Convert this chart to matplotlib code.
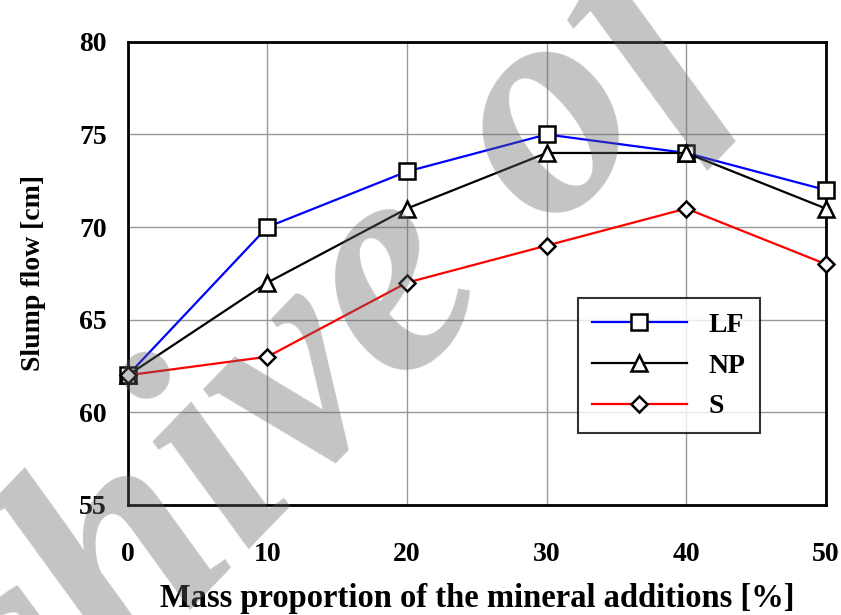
import matplotlib.pyplot as plt

# Datos
proporcion = [0, 10, 20, 30, 40, 50]
lf = [62, 70, 73, 75, 74, 72]
np_ = [62, 67, 71, 74, 74, 71]
s = [62, 63, 67, 69, 71, 68]

plt.rcParams["font.family"] = "Liberation Serif"
plt.rcParams["font.weight"] = "bold"

fig = plt.figure(figsize=(8.41, 6.15), dpi=100)
ax = fig.add_axes([0.152, 0.179, 0.830, 0.753])

ax.plot(proporcion, lf, color="blue", lw=1.6, marker="s", ms=12,
        mfc="white", mec="black", mew=1.8, label="LF", zorder=3)
ax.plot(proporcion, np_, color="black", lw=1.6, marker="^", ms=12,
        mfc="white", mec="black", mew=1.8, label="NP", zorder=3)
ax.plot(proporcion, s, color="red", lw=1.6, marker="D", ms=8,
        mfc="white", mec="black", mew=1.8, label="S", zorder=3)

ax.set_xlim(0, 50)
ax.set_ylim(55, 80)
ax.set_xticks(proporcion)
ax.set_yticks(range(55, 81, 5))
ax.grid(True, color="#999999", lw=1)
ax.tick_params(length=0, labelsize=20)
ax.tick_params(axis="x", pad=27)
ax.tick_params(axis="y", pad=15)
for sp in ax.spines.values():
    sp.set_linewidth(2)
for line in ax.lines:
    line.set_clip_on(False)

ax.set_xlabel("Mass proportion of the mineral additions [%]", fontsize=23.5,
              fontweight="bold", labelpad=11)
ax.set_ylabel("Slump flow [cm]", fontsize=20, fontweight="bold", labelpad=24)

leg = ax.legend(loc="lower right", bbox_to_anchor=(0.905, 0.155), fontsize=20,
                frameon=True, fancybox=False, edgecolor="black",
                handlelength=3.4, borderpad=0.5, labelspacing=0.55,
                borderaxespad=0)
leg.get_frame().set_linewidth(1.5)

# marca de agua
fig.text(0.385, 0.413, "chive of", fontsize=225, color="#646464",
         rotation=46, ha="center", va="center", style="italic",
         fontweight="bold", alpha=0.38, zorder=10)

fig.savefig("out.png", dpi=100)
